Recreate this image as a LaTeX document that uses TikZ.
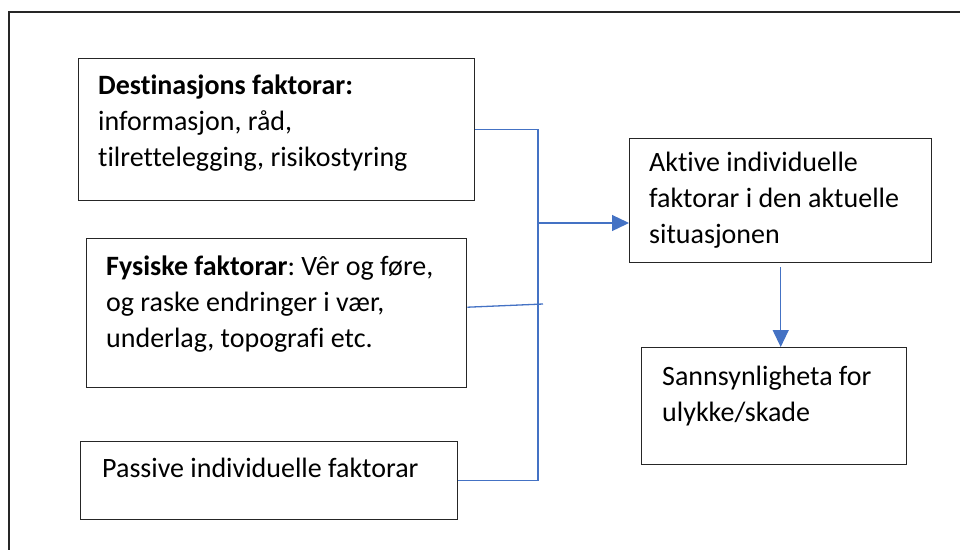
\documentclass[tikz,border=0pt]{standalone}
\usepackage{fontspec}
\setmainfont{Carlito}[Ligatures=NoCommon]
\usetikzlibrary{arrows.meta}
\usepackage{xcolor}
\definecolor{linkblue}{HTML}{4472C4}
\definecolor{boxline}{HTML}{262626}
\frenchspacing

\begin{document}
\begin{tikzpicture}[x=1pt, y=-1pt]
		\tikzset{box/.style = {shape=rectangle, draw=boxline, line width=1.4pt, anchor=north west, inner sep=0pt},
			txt/.style = {anchor=base west, inner sep=0pt, align=left, font=\fontsize{28}{36}\selectfont},
			link/.style = {draw=linkblue, line width=1.3pt},
			tip/.style = {-{Triangle[width=16pt, length=17pt]}}}
		\useasboundingbox (0,0) rectangle (960,550);
		\draw[boxline, line width=1.3pt] (960,12) -- (9,12) -- (9,550);
		%boxes
		\node[box, minimum width=396pt, minimum height=142pt] (dest) at (78,58) {};
		\node[box, minimum width=380pt, minimum height=149pt] (phys) at (86,238) {};
		\node[box, minimum width=377pt, minimum height=78pt] (passive) at (80,441) {};
		\node[box, minimum width=302pt, minimum height=124pt] (active) at (629,138) {};
		\node[box, minimum width=265pt, minimum height=117pt] (risk) at (641,347) {};
		%texts (placed at the baseline of the last line)
		\node[txt] (destTxt) at (98,166) {\textbf{Destinasjons faktorar:}\\informasjon, råd,\\tilrettelegging, risikostyring};
		\node[txt] (physTxt) at (106,347) {\textbf{Fysiske faktorar}: Vêr og føre,\\og raske endringer i vær,\\underlag, topografi etc.};
		\node[txt] (passiveTxt) at (102,477) {Passive individuelle faktorar};
		\node[txt] (activeTxt) at (649,243) {Aktive individuelle\\faktorar i den aktuelle\\situasjonen};
		\node[txt] (riskTxt) at (662,421) {Sannsynligheta for\\ulykke/skade};
		%edges
		\coordinate (bus) at (538,223);
		\coordinate (physEnd) at (543,304);
		\draw[link] (dest.east) -| (bus) |- (passive.east);
		\draw[link] ([yshift=6pt]phys.east) -- (physEnd);
		\draw[link, tip] (bus) -- (bus -| active.west);
		\draw[link, tip] ([yshift=-4pt]active.south) -- (active.south |- risk.north);
\end{tikzpicture}
\end{document}
